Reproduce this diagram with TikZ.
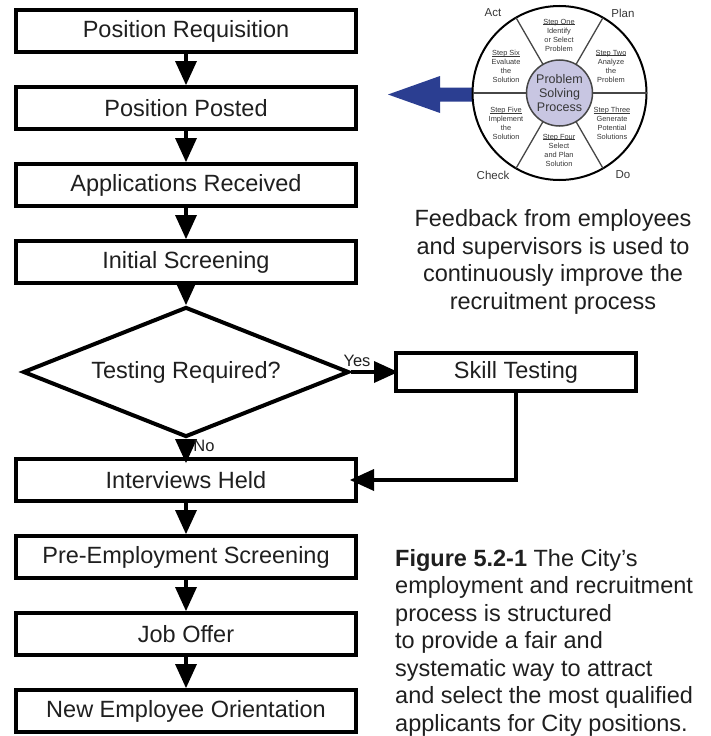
\documentclass[tikz,border=0pt]{standalone}
\usepackage{fontspec}
\setmainfont{Liberation Sans}
\usetikzlibrary{arrows.meta,shapes.geometric,calc}
\definecolor{wheelblue}{RGB}{43,62,145}
\definecolor{lav}{RGB}{200,198,226}
\definecolor{txtgray}{RGB}{55,55,55}
\definecolor{ringgray}{RGB}{70,70,70}
\newlength\sulw
\newcommand\sul[1]{\settowidth\sulw{#1}\rlap{\rule[-0.9pt]{\sulw}{0.45pt}}#1}
\begin{document}
\begin{tikzpicture}[x=1pt,y=-1pt,
  box/.style={draw,line width=4pt,minimum width=340pt,minimum height=42pt,inner sep=0pt,
    font=\fontsize{23.5}{26}\selectfont,text=black!88},
  flow/.style={line width=4pt,-{Triangle[length=24pt,width=22pt,line width=0pt]}},
  steptext/.style={align=center,inner sep=0pt,text=txtgray,font=\fontsize{7.4}{9}\selectfont},
  pdca/.style={inner sep=0pt,text=txtgray,font=\fontsize{11.5}{12}\selectfont},
  lbl/.style={inner sep=0pt,text=black!88,font=\fontsize{16.5}{17}\selectfont},
  prose/.style={inner sep=0pt,text=black!88,font=\fontsize{23.5}{27.5}\selectfont}]
\useasboundingbox (0,0) rectangle (711,736);

% flow boxes
\node[box] (req)  at (186,31)  {Position Requisition};
\node[box] (post) at (186,108) {Position Posted};
\node[box] (app)  at (186,185) {Applications Received};
\node[box] (init) at (186,262) {Initial Screening};
\node[draw,diamond,aspect=2.5,line width=4pt,minimum width=326pt,minimum height=130pt,inner sep=0pt,
  font=\fontsize{23.5}{26}\selectfont,text=black!88] (dec) at (186,372) {Testing Required?};
\node[box,minimum width=240pt,minimum height=38pt] (skill) at (516,372) {Skill Testing};
\node[box] (int)  at (186,480) {Interviews Held};
\node[box] (pre)  at (186,557) {Pre-Employment Screening};
\node[box] (job)  at (186,634) {Job Offer};
\node[box] (orient) at (186,711) {New Employee Orientation};

% connectors
\draw[flow] (req) -- (post);
\draw[flow] (post) -- (app);
\draw[flow] (app) -- (init);
\draw[flow] (init) -- (dec);
\draw[flow,shorten >=-6pt] (dec) -- (int);
\draw[flow] (int) -- (pre);
\draw[flow] (pre) -- (job);
\draw[flow] (job) -- (orient);
\draw[flow,shorten >=-4pt] (dec.east) -- (skill.west);
\draw[flow,shorten >=-8pt] (skill.south) |- (int.east);
\node[lbl] (yes) at (357,361) {Yes};
\node[lbl] (no) at (204,446) {No};

% PDCA wheel
\coordinate (W) at (559.5,93);
\fill[wheelblue] (388,94.5) -- (440,76) -- (440,87.5) -- (474,87.5) -- (474,101.5) -- (440,101.5) -- (440,113) -- cycle;
\draw[line width=2pt,fill=white] (W) circle[radius=87];
\foreach \a in {0,60,...,300}
  \draw[line width=1.3pt,ringgray] ($(W)+(\a:33)$) -- ($(W)+(\a:87)$);
\draw[fill=lav,draw=ringgray,line width=1.5pt] (W) circle[radius=33];
\node[align=center,inner sep=0pt,text=txtgray,font=\fontsize{12.5}{14}\selectfont] (core) at (W) {Problem\\Solving\\Process};

\node[steptext] (s1) at (559,35)  {\sul{Step One}\\Identify\\or Select\\Problem};
\node[steptext] (s2) at (611,66)  {\sul{Step Two}\\Analyze\\the\\Problem};
\node[steptext] (s3) at (612,123) {\sul{Step Three}\\Generate\\Potential\\Solutions};
\node[steptext] (s4) at (559,150) {\sul{Step Four}\\Select\\and Plan\\Solution};
\node[steptext] (s5) at (506,123) {\sul{Step Five}\\Implement\\the\\Solution};
\node[steptext] (s6) at (506,66)  {\sul{Step Six}\\Evaluate\\the\\Solution};

\node[pdca] (act)   at (493,13)  {Act};
\node[pdca] (plan)  at (623,13)  {Plan};
\node[pdca] (check) at (493,175) {Check};
\node[pdca] (do)    at (623,175) {Do};

% texts
\node[prose,align=center] (fb) at (553,262) {Feedback from employees\\and supervisors is used to\\continuously improve the\\recruitment process};
\node[prose,align=left,anchor=north west] (cap) at (395,549) {\textbf{Figure 5.2-1} The City’s\\employment and recruitment\\process is structured\\to provide a fair and\\systematic way to attract\\and select the most qualified\\applicants for City positions.};
\end{tikzpicture}
\end{document}
